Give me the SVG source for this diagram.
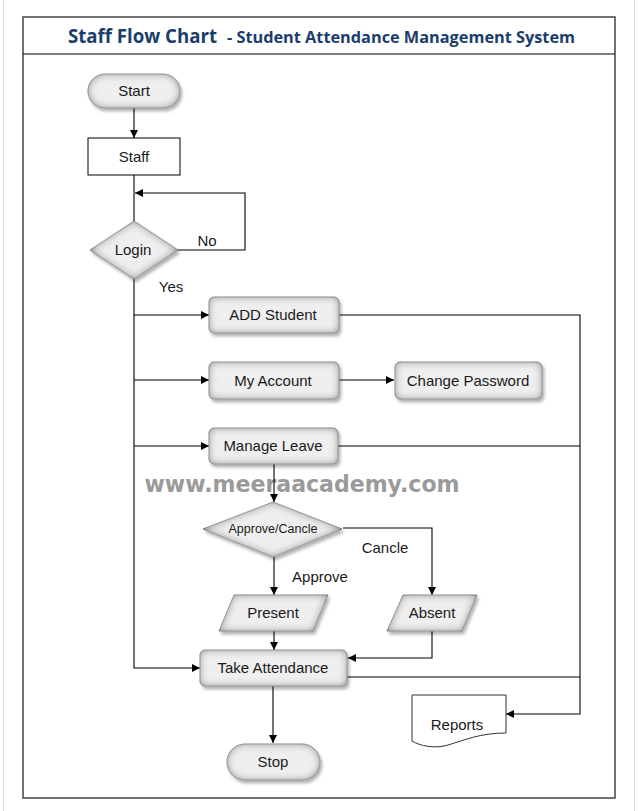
<svg xmlns="http://www.w3.org/2000/svg" width="638" height="811" viewBox="0 0 638 811">
<defs>
<style>
.lbl{font-family:"Liberation Sans",Arial,sans-serif;font-size:15px;fill:#1a1a1a;text-anchor:middle}
.small{font-size:12.5px}
.conn{fill:none;stroke:#000;stroke-width:1.1}
.node{fill:#efefef;stroke:#a0a0a0;stroke-width:0.8;filter:url(#bev)}
.title{font-family:"Open Sans","Liberation Sans",sans-serif;font-weight:bold;fill:#1b3d6d}
</style>
<marker id="ah" viewBox="0 0 10 10" refX="10" refY="5" markerWidth="10" markerHeight="8" markerUnits="userSpaceOnUse" orient="auto">
<path d="M0,0 L10,5 L0,10 z" fill="#000"/>
</marker>
<filter id="bev" x="-20%" y="-30%" width="150%" height="170%">
<feGaussianBlur in="SourceAlpha" stdDeviation="4" result="b"/>
<feComposite in="SourceAlpha" in2="b" operator="out" result="inner"/>
<feFlood flood-color="#6e6e6e" flood-opacity="1"/>
<feComposite in2="inner" operator="in" result="innerC"/>
<feGaussianBlur in="SourceAlpha" stdDeviation="1.8" result="sb"/>
<feOffset in="sb" dx="2" dy="3" result="so"/>
<feFlood flood-color="#000" flood-opacity="0.3"/>
<feComposite in2="so" operator="in" result="shadowC"/>
<feMerge>
<feMergeNode in="shadowC"/>
<feMergeNode in="SourceGraphic"/>
<feMergeNode in="innerC"/>
</feMerge>
</filter>
</defs>
<rect width="638" height="811" fill="#fff"/>
<line x1="3.5" y1="0" x2="3.5" y2="811" stroke="#dcdcdc"/>
<line x1="634.5" y1="0" x2="634.5" y2="811" stroke="#dcdcdc"/>
<g id="frame">
<rect x="23" y="17" width="592" height="781" fill="#fff" stroke="#444" stroke-width="1.5"/>
<line x1="23" y1="54" x2="615" y2="54" stroke="#000" stroke-width="1.2"/>
<text class="title" x="68" y="43" font-size="19" textLength="149" lengthAdjust="spacingAndGlyphs">Staff Flow Chart</text>
<text class="title" x="227" y="43" font-size="16" textLength="348" lengthAdjust="spacingAndGlyphs">- Student Attendance Management System</text>
</g>
<text x="302" y="492" font-family="'DejaVu Sans',Verdana,sans-serif" font-weight="bold" font-size="23" fill="#9a9a9a" text-anchor="middle" textLength="315" lengthAdjust="spacingAndGlyphs">www.meeraacademy.com</text>
<g id="connectors">
<path class="conn" d="M134 108 V138" marker-end="url(#ah)"/>
<path class="conn" d="M134 175 V221"/>
<path class="conn" d="M178 250 H245 V193 H135" marker-end="url(#ah)"/>
<path class="conn" d="M134 279 V668 H200" marker-end="url(#ah)"/>
<path class="conn" d="M134 315 H209" marker-end="url(#ah)"/>
<path class="conn" d="M134 380 H209" marker-end="url(#ah)"/>
<path class="conn" d="M134 446 H209" marker-end="url(#ah)"/>
<path class="conn" d="M339 380 H394" marker-end="url(#ah)"/>
<path class="conn" d="M339 315 H580 V714 H506" marker-end="url(#ah)"/>
<path class="conn" d="M338 446 H580"/>
<path class="conn" d="M347 677 H580"/>
<path class="conn" d="M274 464 V502" marker-end="url(#ah)"/>
<path class="conn" d="M274 557 V595" marker-end="url(#ah)"/>
<path class="conn" d="M343 528 H432 V595" marker-end="url(#ah)"/>
<path class="conn" d="M274 631 V650" marker-end="url(#ah)"/>
<path class="conn" d="M432 631 V658 H348" marker-end="url(#ah)"/>
<path class="conn" d="M273 686 V743" marker-end="url(#ah)"/>
<text class="lbl" x="207" y="246">No</text>
<text class="lbl" x="171" y="292">Yes</text>
<text class="lbl" x="385" y="553">Cancle</text>
<text class="lbl" x="320" y="582">Approve</text>
</g>
<g id="start"><rect class="node" x="88" y="74" width="92" height="34" rx="17"/><text class="lbl" x="134" y="96">Start</text></g>
<g id="staff"><rect x="88" y="138" width="92" height="37" fill="#fff" stroke="#000" stroke-width="1"/><text class="lbl" x="134" y="162">Staff</text></g>
<g id="login"><polygon class="node" points="90,250 134,221 178,250 134,279"/><text class="lbl" x="133" y="255">Login</text></g>
<g id="add-student"><rect class="node" x="209" y="297" width="130" height="36" rx="5"/><text class="lbl" x="273" y="320">ADD Student</text></g>
<g id="my-account"><rect class="node" x="209" y="362" width="130" height="37" rx="5"/><text class="lbl" x="273" y="386">My Account</text></g>
<g id="change-password"><rect class="node" x="395" y="362" width="147" height="37" rx="5"/><text class="lbl" x="468" y="386">Change Password</text></g>
<g id="manage-leave"><rect class="node" x="209" y="428" width="129" height="36" rx="5"/><text class="lbl" x="273" y="451">Manage Leave</text></g>
<g id="approve-cancle"><polygon class="node" points="203,529 273,502 342,529 273,557"/><text class="lbl small" x="273" y="533">Approve/Cancle</text></g>
<g id="present"><polygon class="node" points="234,595 328,595 313,631 219,631"/><text class="lbl" x="273" y="618">Present</text></g>
<g id="absent"><polygon class="node" points="403,595 477,595 462,631 387,631"/><text class="lbl" x="432" y="618">Absent</text></g>
<g id="take-attendance"><rect class="node" x="200" y="650" width="147" height="36" rx="5"/><text class="lbl" x="273" y="673">Take Attendance</text></g>
<g id="stop"><rect class="node" x="227" y="744" width="93" height="36" rx="18"/><text class="lbl" x="273" y="767">Stop</text></g>
<g id="reports"><path d="M412 695 H506 V733 C480 733 465 740 448 745 C435 749 420 746 412 741 Z" fill="#fff" stroke="#333" stroke-width="1"/><text class="lbl" x="457" y="730">Reports</text></g>
</svg>
